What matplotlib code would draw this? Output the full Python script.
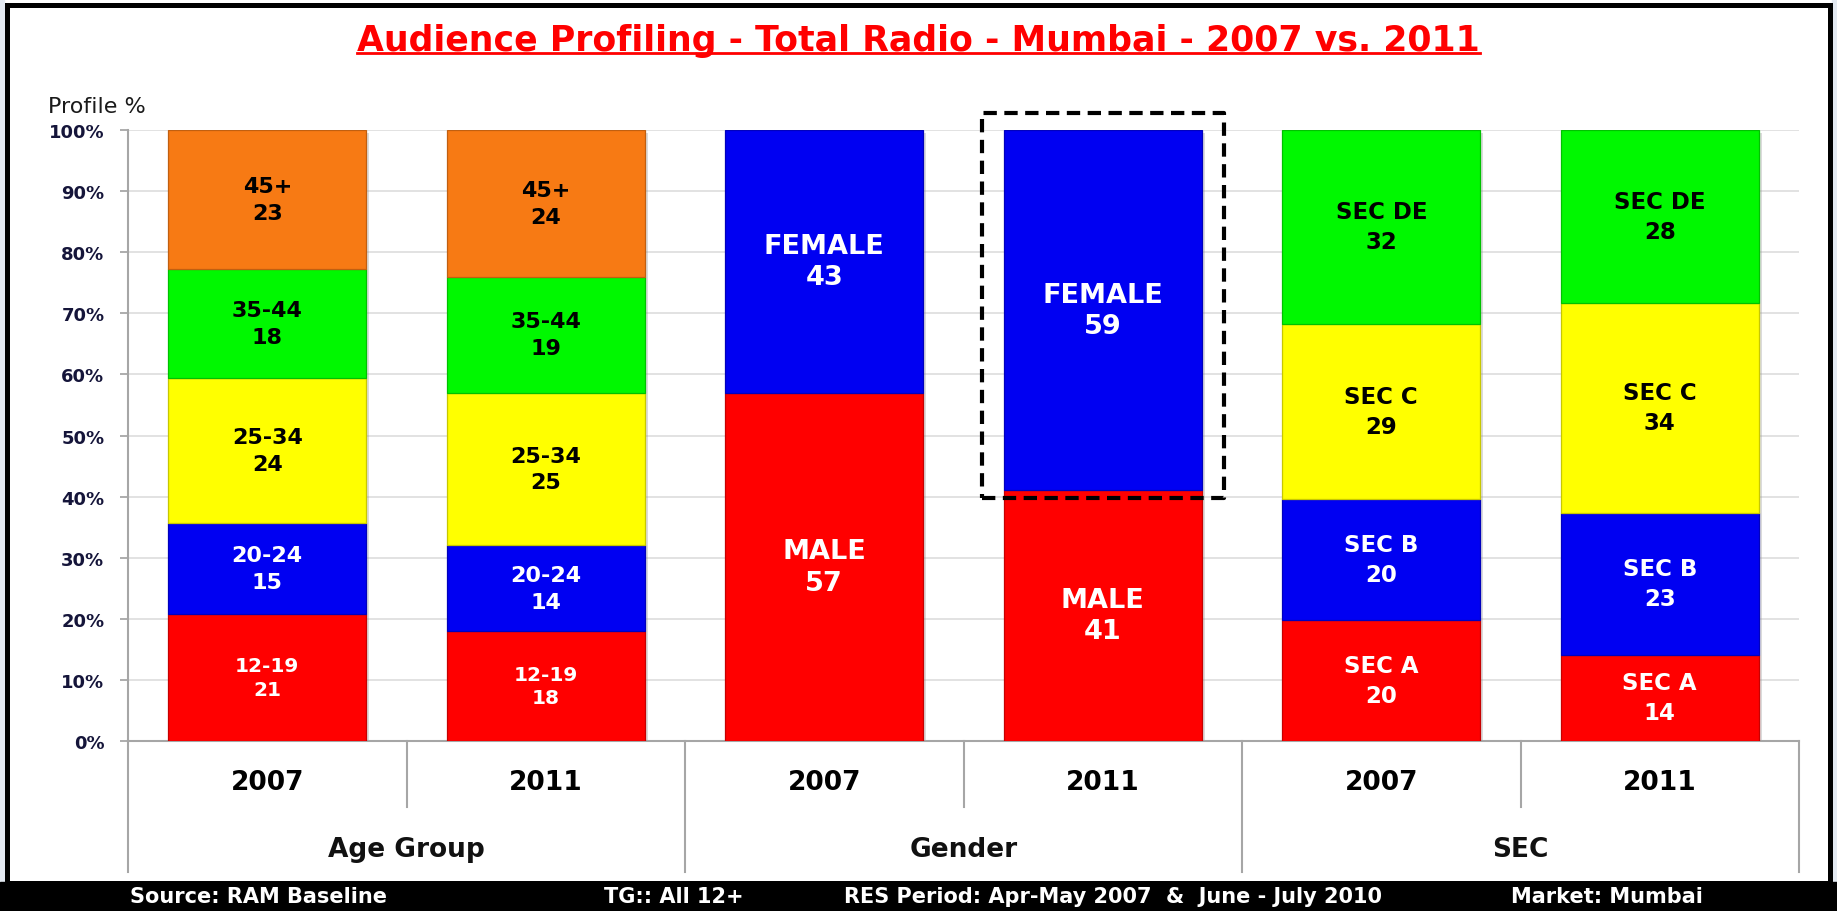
import numpy as np
import matplotlib
matplotlib.use("Agg")
import matplotlib.pyplot as plt
from matplotlib.patches import Rectangle
from matplotlib.lines import Line2D
import matplotlib.transforms as mtransforms
from matplotlib.colors import to_rgb

# ---------------- data ----------------
title = "Audience Profiling - Total Radio - Mumbai - 2007 vs. 2011"
groups = ["Age Group", "Gender", "SEC"]
years = ["2007", "2011"]

age_segments = ["12-19", "20-24", "25-34", "35-44", "45+"]
age_2007 = [21, 15, 24, 18, 23]
age_2011 = [18, 14, 25, 19, 24]

gender_segments = ["MALE", "FEMALE"]
gender_2007 = [57, 43]
gender_2011 = [41, 59]

sec_segments = ["SEC A", "SEC B", "SEC C", "SEC DE"]
sec_2007 = [20, 20, 29, 32]
sec_2011 = [14, 23, 34, 28]

y_ticks = [0, 10, 20, 30, 40, 50, 60, 70, 80, 90, 100]
footer_texts = ["Source: RAM Baseline", "TG:: All 12+",
                "RES Period: Apr-May 2007  &  June - July 2010", "Market: Mumbai"]

# ---------------- style ----------------
RED, BLUE, YELLOW, GREEN, ORANGE = "#FF0000", "#0000F2", "#FFFF00", "#00F800", "#F77A14"
age_colors = [RED, BLUE, YELLOW, GREEN, ORANGE]
gender_colors = [RED, BLUE]
sec_colors = [RED, BLUE, YELLOW, GREEN]
text_on = {RED: "white", BLUE: "white", YELLOW: "black", GREEN: "black", ORANGE: "black"}

W, H = 1837, 912
fig = plt.figure(figsize=(W / 100, H / 100), dpi=100, facecolor="white")


def fx(px):
    return px / W


def fy(py):
    return 1 - py / H


# outside light strips, footer band, border
fig.add_artist(Rectangle((0, 0), fx(4), 1, transform=fig.transFigure, color="#E3E9F1", zorder=0))
fig.add_artist(Rectangle((fx(1832), 0), 1 - fx(1832), 1, transform=fig.transFigure, color="#E3E9F1", zorder=0))
fig.add_artist(Rectangle((0, 0), 1, (H - 883) / H, transform=fig.transFigure, color="black", zorder=1))
fig.add_artist(Rectangle((fx(7), fy(884)), fx(1829.5) - fx(7), (884 - 6) / H, transform=fig.transFigure,
                         fill=False, ec="black", lw=3.6, zorder=2))

ax = fig.add_axes([fx(128), fy(742), fx(1799) - fx(128), (742 - 131) / H])
ax.set_facecolor("none")

bars = [
    (age_2007, age_segments, age_colors),
    (age_2011, age_segments, age_colors),
    (gender_2007, gender_segments, gender_colors),
    (gender_2011, gender_segments, gender_colors),
    (sec_2007, sec_segments, sec_colors),
    (sec_2011, sec_segments, sec_colors),
]
label_size = {"Age Group": 16, "Gender": 19.5, "SEC": 16.5}
label_ls = {"Age Group": 1.42, "Gender": 1.27, "SEC": 1.38}
bar_w = 0.71

for i, (vals, segs, cols) in enumerate(bars):
    grp = groups[i // 2]
    v = np.array(vals, dtype=float)
    share = v / v.sum() * 100
    bottoms = np.concatenate([[0], np.cumsum(share)[:-1]])
    # soft shadow
    ax.bar(i + 0.012, share.sum(), bottom=-0.5, width=bar_w, color="#9a9a9a", alpha=0.35, zorder=2, lw=0)
    edge = [tuple(c * 0.78 for c in to_rgb(c_)) for c_ in cols]
    ax.bar([i] * len(share), share, bottom=bottoms, width=bar_w, color=cols,
           edgecolor=edge, linewidth=0.9, zorder=3)
    for s, b, seg, val, c in zip(share, bottoms, segs, vals, cols):
        fs, ls = label_size[grp], label_ls[grp]
        if seg == "12-19":
            fs, ls = 14.5, 1.27
        ax.text(i, b + s / 2, f"{seg}\n{val}", ha="center", va="center", color=text_on[c],
                fontsize=fs, fontweight="bold", linespacing=ls, zorder=4)

ax.set_xlim(-0.5, 5.5)
ax.set_ylim(0, 100)
ax.set_yticks(y_ticks)
ax.set_yticklabels([f"{t}%" for t in y_ticks])
for lab in ax.get_yticklabels():
    lab.set_fontweight("bold")
    lab.set_color("#15153a")
ax.tick_params(axis="y", length=6, width=1.2, color="#A0A0A0", pad=11, labelsize=13)
ax.tick_params(axis="x", length=0, labelbottom=False)
ax.yaxis.grid(True, color="#DADADA", lw=1.1, zorder=0)
ax.set_axisbelow(True)
for sp in ["top", "right"]:
    ax.spines[sp].set_visible(False)
for sp in ["left", "bottom"]:
    ax.spines[sp].set_color("#A6A6A6")
    ax.spines[sp].set_linewidth(1.5)

trans = mtransforms.blended_transform_factory(ax.transData, ax.transAxes)
for x in [-0.5, 1.5, 3.5, 5.5]:
    ax.add_line(Line2D([x, x], [0, -0.2144], transform=trans, color="#A6A6A6", lw=1.5, clip_on=False))
for x in [0.5, 2.5, 4.5]:
    ax.add_line(Line2D([x, x], [0, -0.108], transform=trans, color="#A6A6A6", lw=1.5, clip_on=False))

for i in range(6):
    ax.text(i, -0.067, years[i % 2], transform=trans, ha="center", va="center",
            fontsize=19, fontweight="bold", color="black")
for g, name in enumerate(groups):
    ax.text(2 * g + 0.5, -0.1768, name, transform=trans, ha="center", va="center",
            fontsize=19, fontweight="bold", color="#111111")

# highlight box around Gender 2011
hi = 3
male_share = gender_2011[0] / sum(gender_2011) * 100
box = Rectangle((hi - 0.434, male_share - 1.2), 0.869, 102.8 - (male_share - 1.2),
                fill=False, ec="black", lw=3.0, ls=(0, (3.2, 1.8)), clip_on=False, zorder=6)
box.set_joinstyle("round")
ax.add_patch(box)

# texts
fig.text(fx(48), fy(113), "Profile %", fontsize=16, color="#1a1a1a", ha="left", va="baseline")
t = fig.text(0.5, fy(51), title, fontsize=25, fontweight="bold", color="#FF0000",
             ha="center", va="baseline")

for txt, cx in zip(footer_texts, [258, 674, 1113, 1607]):
    fig.text(fx(cx), fy(897), txt, fontsize=15, fontweight="bold", color="white",
             ha="center", va="center", zorder=3)

fig.canvas.draw()
bb = t.get_window_extent().transformed(fig.transFigure.inverted())
fig.add_artist(Line2D([bb.x0, bb.x1], [fy(54), fy(54)], transform=fig.transFigure,
                      color="#FF0000", lw=2.0))

fig.savefig("out.png", dpi=100, facecolor=fig.get_facecolor())
